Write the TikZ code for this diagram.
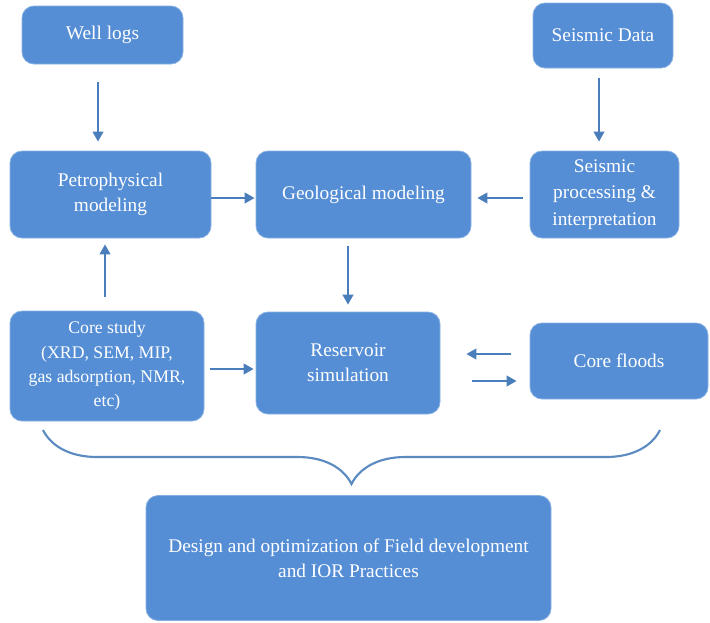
\documentclass[tikz,border=0pt]{standalone}
\usepackage{fontspec}
\setmainfont{Liberation Serif}
\usetikzlibrary{arrows.meta,decorations.pathreplacing}
\definecolor{boxblue}{HTML}{558ED5}
\definecolor{flowblue}{HTML}{4A7EBB}
\tikzset{
    box/.style = {
        draw = boxblue!70!white,
        line width = 0.6pt,
        fill = boxblue,
        text = white,
        rounded corners = 9pt,
        align = center,
        font = \fontsize{14.5}{19}\selectfont,
        },
    small text/.style = {
        font = \fontsize{13.3}{18.2}\selectfont,
        },
    flow/.style = {
        draw = flowblue,
        line width = 1.5pt,
        -{Triangle[length=7.5pt,width=8pt]},
        },
    bracket/.style = {
        draw = flowblue!90!white,
        line width = 1.6pt,
        decorate,
        decoration = {brace, amplitude=40.5pt},
        },
}
\begin{document}
\begin{tikzpicture}[x=0.75pt,y=-0.75pt]
            \useasboundingbox (0,0) rectangle (710,622);

            \node[box, minimum width=120.75pt, minimum height=43.5pt] (wells) at (102.5,35) {Well logs};
            \node[box, minimum width=105pt, minimum height=48.75pt] (seisdata) at (603,35.5) {Seismic Data};
            \node[box, minimum width=150.75pt, minimum height=65.25pt] (petro) at (110.5,194.5) {Petrophysical\\modeling};
            \node[box, minimum width=161.25pt, minimum height=65.25pt] (geo) at (363.5,194.5) {Geological modeling};
            \node[box, minimum width=111.75pt, minimum height=65.25pt, font=\fontsize{14.5}{20}\selectfont] (seisproc) at (604.5,194.5) {Seismic\\processing \&\\interpretation};
            \node[box, small text, minimum width=145.5pt, minimum height=82.5pt] (core) at (107,366) {Core study\\(XRD, SEM, MIP,\\gas adsorption, NMR,\\etc)};
            \node[box, minimum width=138pt, minimum height=76.5pt] (res) at (348,363) {Reservoir\\simulation};
            \node[box, minimum width=133.5pt, minimum height=57pt] (floods) at (619,361) {Core floods};
            \node[box, minimum width=303.75pt, minimum height=93.75pt] (design) at (348.5,558) {Design and optimization of Field development\\and IOR Practices};

            \coordinate (braceR) at (660,430);
            \coordinate (braceL) at (43,430);

            \draw[flow] ([shift={(-4.5,18)}]wells.south) -- ([shift={(-12.5,-9)}]petro.north);
            \draw[flow] ([shift={(-4,10)}]seisdata.south) -- ([shift={(-5.5,-9)}]seisproc.north);
            \draw[flow] ([shift={(0,3.5)}]petro.east) -- ([shift={(-1,3.5)}]geo.west);
            \draw[flow] ([shift={(-7,3.5)}]seisproc.west) -- ([shift={(6,3.5)}]geo.east);
            \draw[flow] ([shift={(-15.5,8)}]geo.south) -- ([shift={(0,-7)}]res.north);
            \draw[flow] ([shift={(-2,-14)}]core.north) -- ([shift={(-5.5,6)}]petro.south);
            \draw[flow] ([shift={(6,3)}]core.east) -- ([shift={(-2,6)}]res.west);
            \draw[flow] ([shift={(-19,-7)}]floods.west) -- ([shift={(26,-9)}]res.east);
            \draw[flow] ([shift={(32,18)}]res.east) -- ([shift={(-13,20)}]floods.west);

            %\draw[flow] (res) -- (design);
            \draw[bracket] (braceR) -- (braceL);
        \end{tikzpicture}
\end{document}
